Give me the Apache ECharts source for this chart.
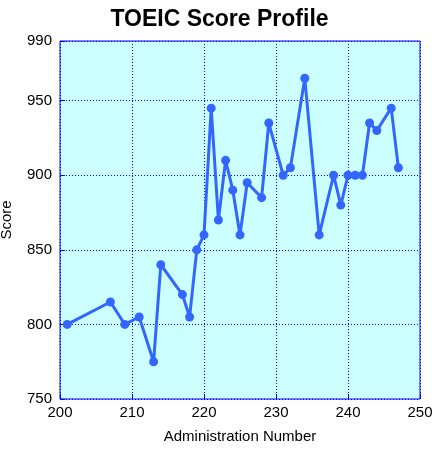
<!DOCTYPE html>
<html>
<head>
<meta charset="utf-8">
<script src="https://cdn.jsdelivr.net/npm/echarts@6/dist/echarts.min.js"></script>
<style>html,body{margin:0;padding:0;background:#fff}#chart{width:439px;height:452px}</style>
</head>
<body>
<div id="chart"></div>
<script>
// administration numbers and scores
const admins = [201, 207, 209, 211, 213, 214, 217, 218, 219, 220, 221, 222, 223, 224, 225, 226, 228, 229, 231, 232, 234, 236, 238, 239, 240, 241, 242, 243, 244, 246, 247];
const scores = [800, 815, 800, 805, 775, 840, 820, 805, 850, 860, 945, 870, 910, 890, 860, 895, 885, 935, 900, 905, 965, 860, 900, 880, 900, 900, 900, 935, 930, 945, 905];
const yTicks = [750, 800, 850, 900, 950, 990];
const xTicks = [200, 210, 220, 230, 240, 250];

const chart = echarts.init(document.getElementById('chart'));
const gridLine = { show: true, lineStyle: { color: '#0000ff', type: [1, 2], width: 1 } };
chart.setOption({
    animation: false,
    title: {
        text: 'TOEIC Score Profile',
        left: 'center',
        top: 3,
        textStyle: { fontFamily: 'Liberation Sans', fontSize: 23, fontWeight: 'bold', color: '#000' }
    },
    grid: {
        left: 60, right: 19, top: 41, bottom: 53,
        containLabel: false, outerBoundsMode: 'none',
        show: true, backgroundColor: '#ccffff', borderColor: '#0000ff', borderWidth: 1
    },
    xAxis: {
        type: 'value',
        min: 200, max: 250, interval: 10,
        name: 'Administration Number',
        nameLocation: 'middle',
        nameGap: 30,
        nameTextStyle: { fontFamily: 'Liberation Sans', fontSize: 15, color: '#000' },
        axisLine: { show: false },
        axisTick: { show: true, inside: true, length: 5, lineStyle: { color: '#0000ff' } },
        axisLabel: { fontFamily: 'Liberation Sans', fontSize: 15, color: '#000', margin: 6 },
        splitLine: gridLine
    },
    yAxis: {
        type: 'value',
        min: 750, max: 990,
        name: 'Score',
        nameLocation: 'middle',
        nameGap: 46,
        nameTextStyle: { fontFamily: 'Liberation Sans', fontSize: 15, color: '#000' },
        axisLine: { show: false },
        axisTick: { show: true, inside: true, length: 5, lineStyle: { color: '#0000ff' }, customValues: yTicks },
        axisLabel: { fontFamily: 'Liberation Sans', fontSize: 15, color: '#000', margin: 8, customValues: yTicks },
        splitLine: gridLine
    },
    series: [{
        type: 'line',
        data: admins.map((a, i) => [a, scores[i]]),
        symbol: 'circle',
        symbolSize: 9,
        lineStyle: { color: '#3366ff', width: 3 },
        itemStyle: { color: '#3366ff' }
    }]
});
</script>
</body>
</html>
